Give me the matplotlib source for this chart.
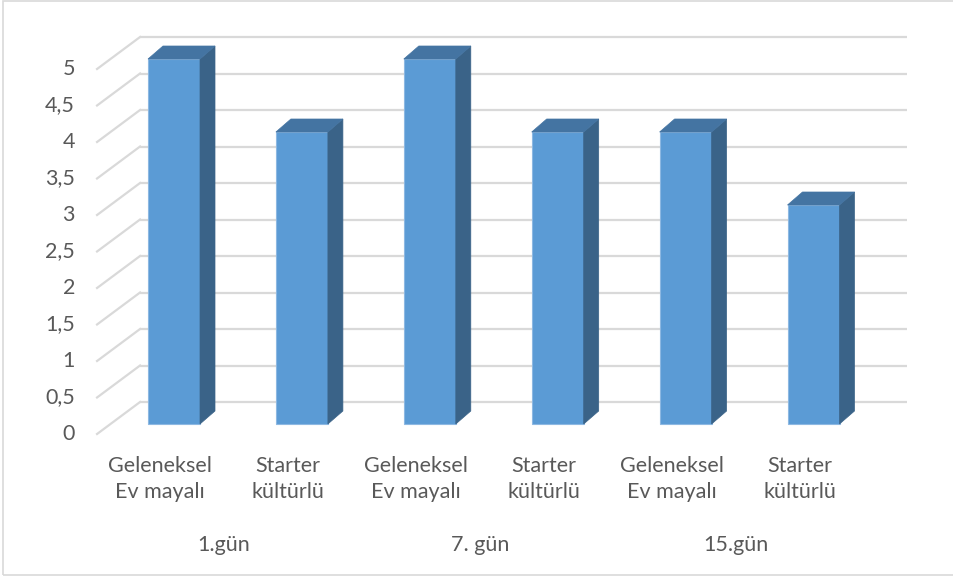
import numpy as np
import matplotlib.pyplot as plt
from matplotlib.patches import Polygon, Rectangle

# Data
categories = ["Geleneksel\nEv mayalı", "Starter\nkültürlü"] * 3
groups = ["1.gün", "7. gün", "15.gün"]
values = [5, 4, 5, 4, 4, 3]
ticks = np.arange(0, 5.01, 0.5)
tick_labels = [f"{t:g}".replace(".", ",") for t in ticks]

# Layout (pixel scale of the image)
W, H = 954, 579
PX_X = 127.9          # pixels per category step
PX_Y = 73.0           # pixels per value unit
X0_PX, Y0_PX = 174, 424   # first bar centre / bar baseline in pixels


def ox(px):
    return px / PX_X


def oy(px):
    return px / PX_Y


fig = plt.figure(figsize=(W / 100, H / 100), dpi=100)
ax = fig.add_axes([0, 0, 1, 1])
ax.set_xlim(-X0_PX / PX_X, (W - X0_PX) / PX_X)
ax.set_ylim((Y0_PX - H) / PX_Y, Y0_PX / PX_Y)
ax.axis("off")

plt.rcParams["font.family"] = ["Lato", "DejaVu Sans"]
txt_color = "#595959"
grid_color = "#D9D9D9"
fs = 15.5

x = np.arange(len(values))
left, right = -0.5, len(values) - 0.5

# depth offsets (in data units)
back_dx, back_dy = ox(30), oy(22)      # back wall
front_dx, front_dy = ox(-13), oy(-10)  # front edge of floor
bar_dx, bar_dy = ox(15), oy(13)        # bar depth

# gridlines on back wall + diagonal floor/side lines
for t, lab in zip(ticks, tick_labels):
    ax.plot([left + back_dx, right + back_dx], [t + back_dy, t + back_dy],
            color=grid_color, lw=1.6, zorder=1, solid_capstyle="butt")
    ax.plot([left + front_dx, left + back_dx], [t + front_dy, t + back_dy],
            color=grid_color, lw=1.6, zorder=1)
    ax.text(left + front_dx - ox(22), t + front_dy, lab, ha="right", va="center",
            fontsize=fs, color=txt_color)

# bars
w = 52 / PX_X
front_c, top_c, side_c = "#5B9BD5", "#4474A2", "#3A6388"
ax.bar(x, values, width=w, color=front_c, edgecolor="#8DB8E2", linewidth=0.8, zorder=3)
for xi, v in zip(x, values):
    xl, xr = xi - w / 2, xi + w / 2
    side = [(xr, 0), (xr + bar_dx, bar_dy), (xr + bar_dx, v + bar_dy), (xr, v)]
    top = [(xl, v), (xl + bar_dx, v + bar_dy), (xr + bar_dx, v + bar_dy), (xr, v)]
    ax.add_patch(Polygon(side, closed=True, facecolor=side_c, edgecolor=side_c, lw=0.5, zorder=3))
    ax.add_patch(Polygon(top, closed=True, facecolor=top_c, edgecolor=top_c, lw=0.5, zorder=3))

# category labels
lab_dx = ox(-14)
for xi, c in zip(x, categories):
    ax.text(xi + lab_dx, oy(Y0_PX - 456), c, ha="center", va="top",
            fontsize=fs, color=txt_color, linespacing=1.4)

for g_i, g in enumerate(groups):
    xc = (x[2 * g_i] + x[2 * g_i + 1]) / 2 + lab_dx
    ax.text(xc, oy(Y0_PX - 545), g, ha="center", va="center",
            fontsize=fs, color=txt_color)

# chart border
fig.patches.append(Rectangle((3.5 / W, 4 / H), 1.2, (H - 4.5) / H, transform=fig.transFigure,
                             fill=False, edgecolor="#D9D9D9", lw=1.2))

fig.savefig("out.png", dpi=100)
